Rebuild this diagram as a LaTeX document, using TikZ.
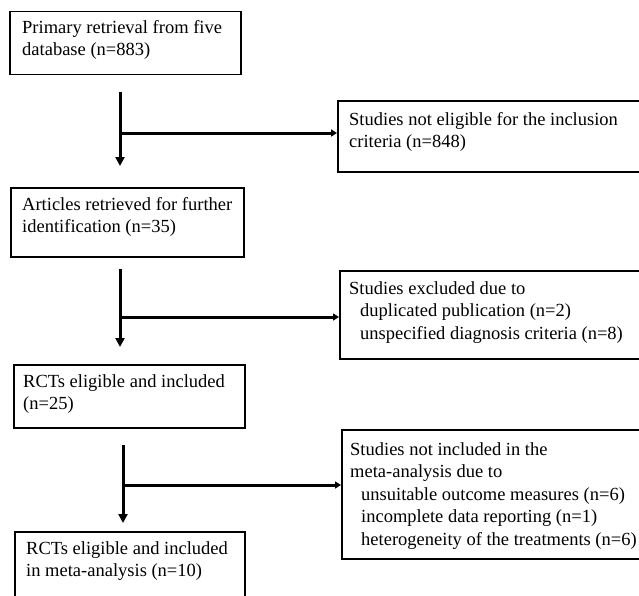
\documentclass[tikz,border=0pt]{standalone}
\usepackage{fontspec}
\setmainfont{Liberation Serif}
\usetikzlibrary{arrows.meta}
\newcommand{\lines}[1]{\parbox[t]{320pt}{\raggedright\fontsize{18.5}{22.5}\selectfont #1}}
\tikzset{
  box/.style={draw, line width=1.5pt, rectangle, inner sep=0pt, anchor=north west},
  txt/.style={anchor=base west, inner sep=0pt},
  flow/.style={line width=3pt, -{Triangle[width=9pt,length=9pt]}},
  side/.style={line width=3pt, -{Triangle[width=7pt,length=6pt]}},
}
\begin{document}
\begin{tikzpicture}[x=1pt,y=-1pt]
\useasboundingbox (0,0) rectangle (639,595);
\clip (0,0) rectangle (639,595);
% left boxes
\node[box, minimum width=231pt, minimum height=63pt] (b1) at (9,10.5) {};
\node[box, minimum width=233pt, minimum height=69pt] (b2) at (10,187) {};
\node[box, minimum width=231pt, minimum height=63pt] (b3) at (13,364) {};
\node[box, minimum width=230pt, minimum height=80pt] (b4) at (14,531) {};
% right boxes
\node[box, minimum width=330pt, minimum height=71pt] (r1) at (337,100) {};
\node[box, minimum width=330pt, minimum height=88pt] (r2) at (339,270) {};
\node[box, minimum width=330pt, minimum height=129pt] (r3) at (341,429) {};
% texts
\node[txt] (t1) at (22,33) {\lines{Primary retrieval from five\\database (n=883)}};
\node[txt] (t2) at (22,210) {\lines{Articles retrieved for further\\identification (n=35)}};
\node[txt] (t3) at (23,387) {\lines{RCTs eligible and included\\(n=25)}};
\node[txt] (t4) at (26,554) {\lines{RCTs eligible and included\\in meta-analysis (n=10)}};
\node[txt] (u1) at (349,125) {\lines{Studies not eligible for the inclusion\\criteria (n=848)}};
\node[txt] (u2) at (349,294) {\lines{Studies excluded due to\\\hspace*{11pt}duplicated publication (n=2)\\\hspace*{11pt}unspecified diagnosis criteria (n=8)}};
\node[txt] (u3) at (350,455) {\lines{Studies not included in the\\meta-analysis due to\\\hspace*{11pt}unsuitable outcome measures (n=6)\\\hspace*{11pt}incomplete data reporting (n=1)\\\hspace*{11pt}heterogeneity of the treatments (n=6)}};
% connector coordinates
\coordinate (s1) at (120,92);
\coordinate (e1) at (120,166);
\coordinate (j1) at (120,133);
\coordinate (s2) at (120,269);
\coordinate (e2) at (120,347);
\coordinate (j2) at (120,317);
\coordinate (s3) at (123,445);
\coordinate (e3) at (123,523);
\coordinate (j3) at (123,485);
% connectors
\draw[flow] (s1) -- (e1);
\draw[side] (j1) -- (j1 -| r1.west);
\draw[flow] (s2) -- (e2);
\draw[side] (j2) -- (j2 -| r2.west);
\draw[flow] (s3) -- (e3);
\draw[side] (j3) -- (j3 -| r3.west);
\end{tikzpicture}
\end{document}
